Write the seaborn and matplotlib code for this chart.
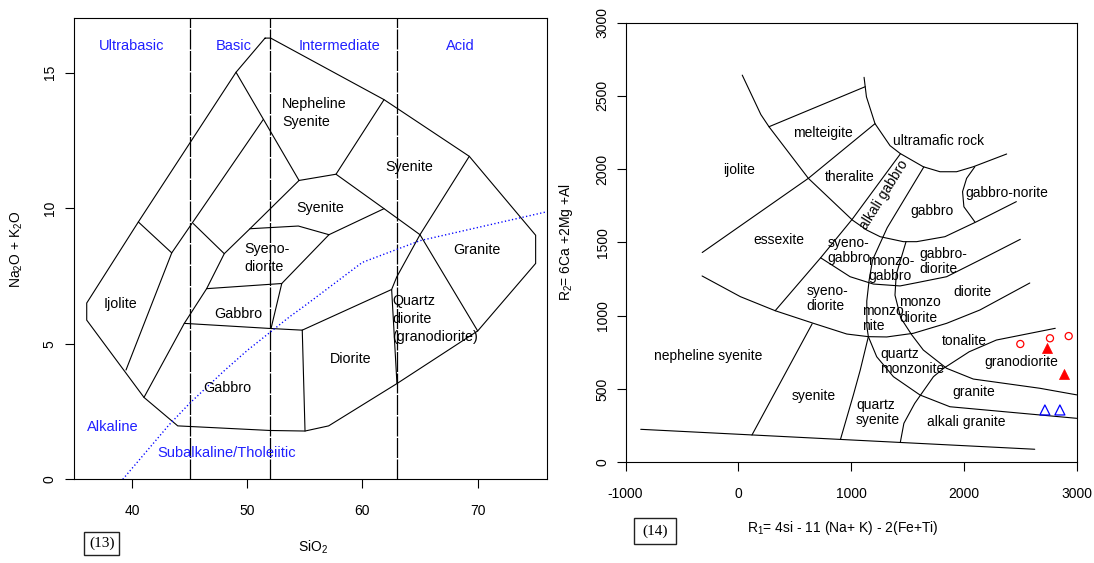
import matplotlib
matplotlib.use("Agg")
import matplotlib.pyplot as plt
import seaborn as sns
from matplotlib.patches import Rectangle

# ======================= LEFT PANEL DATA (TAS, plutonic) =======================
TAS_OUTER_X = [51.55, 52.04, 61.88, 69.28, 75.04, 75.04, 70.01, 63.0, 57.07, 55.02, 52.0, 43.97, 41.04, 36.07, 36.07, 40.55, 49.03, 51.55]
TAS_OUTER_Y = [16.27, 16.27, 14.0, 11.91, 9.0, 7.96, 5.47, 3.53, 1.97, 1.78, 1.8, 1.97, 3.02, 5.87, 6.5, 9.49, 15.01, 16.27]
TAS_IJOLITE_X = [40.55, 43.45, 39.48]
TAS_IJOLITE_Y = [9.49, 8.35, 4.03]
TAS_LINE_A_X = [43.45, 51.40]
TAS_LINE_A_Y = [8.35, 13.27]
TAS_SHORT_X = [45.32, 48.01]
TAS_SHORT_Y = [9.43, 8.32]
TAS_LINE_B_X = [41.04, 44.54, 46.48, 48.01, 50.24, 54.50]
TAS_LINE_B_Y = [3.02, 5.75, 7.03, 8.32, 9.24, 11.02]
TAS_NEPH_LEFT_X = [49.03, 54.50]
TAS_NEPH_LEFT_Y = [15.01, 11.02]
TAS_NEPH_BOTTOM_X = [54.50, 57.71, 61.88]
TAS_NEPH_BOTTOM_Y = [11.02, 11.25, 14.0]
TAS_SYENITE_DIAG_X = [57.71, 61.88, 65.0, 69.28]
TAS_SYENITE_DIAG_Y = [11.25, 9.98, 9.02, 11.91]
TAS_GRANITE_LEFT_X = [65.0, 70.01]
TAS_GRANITE_LEFT_Y = [9.02, 5.47]
TAS_SYENITE_BOT_X = [61.88, 57.10, 54.44, 50.24]
TAS_SYENITE_BOT_Y = [9.98, 9.02, 9.34, 9.24]
TAS_SYENODIO_R_X = [57.10, 53.0, 52.07]
TAS_SYENODIO_R_Y = [9.02, 7.22, 5.56]
TAS_GABBRO_UP_X = [46.48, 53.0]
TAS_GABBRO_UP_Y = [7.03, 7.22]
TAS_GABBRO_LOW_X = [44.54, 52.07, 54.78]
TAS_GABBRO_LOW_Y = [5.75, 5.56, 5.5]
TAS_DIORITE_L_X = [54.78, 55.02]
TAS_DIORITE_L_Y = [5.5, 1.78]
TAS_DIORITE_TOP_X = [54.78, 62.54, 63.0]
TAS_DIORITE_TOP_Y = [5.5, 7.0, 3.53]
TAS_QD_UP_X = [62.54, 62.98, 65.0]
TAS_QD_UP_Y = [7.0, 7.46, 9.02]

SILICA_DIVIDERS = [45, 52, 63]
IB_X = [39.2, 40, 43.2, 45, 48, 50, 53.7, 55, 60, 65, 77.4]
IB_Y = [0, 0.4, 2, 2.8, 4, 4.75, 6, 6.4, 8, 8.8, 10]

TAS_ROCK_NAMES = ["Ijolite", "Gabbro", "Gabbro", "Syenite", "Syenite", "Granite", "Diorite"]
TAS_ROCK_X = [38.98, 48.29, 49.26, 56.36, 64.03, 69.92, 59.0]
TAS_ROCK_Y = [6.46, 3.35, 6.11, 10.0, 11.51, 8.45, 4.42]
TAS_ML_NAMES = ["Syeno-\ndiorite", "Nepheline\nSyenite", "Quartz\ndiorite\n(granodiorite)"]
TAS_ML_X = [49.75, 53.05, 62.6]
TAS_ML_Y = [8.16, 13.52, 5.9]
TAS_BLUE_NAMES = ["Ultrabasic", "Basic", "Intermediate", "Acid", "Alkaline", "Subalkaline/Tholeiitic"]
TAS_BLUE_X = [39.93, 48.85, 58.05, 68.5, 38.35, 48.22]
TAS_BLUE_Y = [15.97, 15.97, 15.97, 15.97, 1.94, 0.96]
TAS_XTICKS = [40, 50, 60, 70]
TAS_YTICKS = [0, 5, 10, 15]

# ======================= RIGHT PANEL DATA (R1-R2) =======================
R_BOTTOM_X = [-865, 2628]
R_BOTTOM_Y = [225, 89]
R_CURVE_X = [35, 200, 272, 621, 1012, 1139, 1257, 1463, 1581, 1832, 2112, 2465]
R_CURVE_Y = [2641, 2372, 2289, 1937, 1652, 1584, 1539, 1505, 1505, 1539, 1641, 1778]
R_MELT_X = [272, 1125]
R_MELT_Y = [2289, 2562]
R_ULTRA_X = [1115, 1136, 1212, 1345, 1434, 1640, 1788, 1935, 2083, 2379]
R_ULTRA_Y = [2626, 2493, 2310, 2160, 2107, 2016, 1982, 1982, 2016, 2103]
R_THER_X = [-320, 621, 1212]
R_THER_Y = [1431, 1937, 2310]
R_ALKGAB_L_X = [1438, 1010, 730, 327]
R_ALKGAB_L_Y = [2105, 1658, 1395, 1034]
R_MONZ_L_X = [1645, 1320, 1190, 1160, 1139, 1140, 1153, 1081, 1020, 906]
R_MONZ_L_Y = [2015, 1600, 1380, 1243, 1100, 925, 857, 629, 459, 157]
R_GABDIO_X = [730, 991, 1197, 1434, 1581, 1847, 2142, 2500]
R_GABDIO_Y = [1395, 1266, 1216, 1203, 1225, 1266, 1380, 1521]
R_LINE7_X = [1487, 1400, 1389, 1440, 1537, 1640, 1847, 2083, 2673, 3000]
R_LINE7_Y = [1505, 1280, 1140, 985, 870, 766, 641, 568, 505, 460]
R_MONZ_BOT_X = [-321, 18, 327, 666, 962, 1153, 1316, 1552, 1847, 2142, 2584]
R_MONZ_BOT_Y = [1271, 1130, 1034, 948, 875, 857, 855, 880, 948, 1039, 1223]
R_SYENITE_L_X = [655, 121]
R_SYENITE_L_Y = [945, 186]
R_QSYEN_R_X = [1436, 1468, 1564, 1730, 1820, 2047, 2288, 2810]
R_QSYEN_R_Y = [135, 266, 402, 584, 641, 754, 834, 914]
R_QMZ_BOT_X = [1153, 1227, 1375, 1611, 1876, 2673, 3000]
R_QMZ_BOT_Y = [857, 720, 584, 459, 379, 323, 300]
R_GABNOR_X = [2097, 2024, 1988, 2000, 2097]
R_GABNOR_Y = [2016, 1937, 1846, 1743, 1640]

R_NAMES = ["ijolite", "melteigite", "theralite", "ultramafic rock", "gabbro", "essexite",
           "diorite", "tonalite", "granodiorite", "granite", "alkali granite", "syenite",
           "nepheline syenite"]
R_NAMES_X = [9, 750, 987, 1776, 1714, 360, 2076, 2001, 2506, 2090, 2019, 671, -263]
R_NAMES_Y = [1993, 2244, 1948, 2191, 1716, 1516, 1159, 827, 686, 481, 277, 452, 725]
R_LEFT_NAMES = ["gabbro-norite", "syeno-\ngabbro", "monzo-\ngabbro", "gabbro-\ndiorite", "syeno-\ndiorite",
                "monzo\nnite", "monzo\ndiorite", "quartz\nmonzonite", "quartz\nsyenite"]
R_LEFT_X = [2010, 794, 1153, 1604, 602, 1100, 1428, 1257, 1044]
R_LEFT_Y = [1839, 1446, 1323, 1368, 1118, 979, 1039, 689, 338]
R_ROT_NAME = "alkali gabbro"
R_ROT_X = [1295]
R_ROT_Y = [1828]

RED_CIRCLE_R1 = [2500, 2763, 2929]
RED_CIRCLE_R2 = [807, 846, 861]
RED_TRI_R1 = [2733, 2888]
RED_TRI_R2 = [783, 599]
BLUE_TRI_R1 = [2718, 2851]
BLUE_TRI_R2 = [357, 357]
R_XTICKS = [-1000, 0, 1000, 2000, 3000]
R_YTICKS = [0, 500, 1000, 1500, 2000, 2500, 3000]

# ======================= STYLE =======================
sns.set_theme(style="ticks")
plt.rcParams["font.family"] = ["Liberation Sans", "DejaVu Sans"]
plt.rcParams["mathtext.fontset"] = "custom"
plt.rcParams["mathtext.rm"] = "Liberation Sans"
plt.rcParams["mathtext.default"] = "regular"
plt.rcParams["axes.unicode_minus"] = False
for k in ["text.color", "axes.labelcolor", "xtick.color", "ytick.color", "axes.edgecolor"]:
    plt.rcParams[k] = "black"

W, H = 1094, 563
fig = plt.figure(figsize=(W / 100, H / 100), dpi=100)
ax1 = fig.add_axes([74.4 / W, 1 - 479.3 / H, 472.3 / W, 461.0 / H])
ax2 = fig.add_axes([625.5 / W, 1 - 462.3 / H, 451.2 / W, 439.8 / H])

LW = 0.8
BLUE = "#2020ff"


def style_axes(ax, xticks, yticks, ypad):
    for s in ax.spines.values():
        s.set_visible(True)
        s.set_linewidth(0.8)
        s.set_color("black")
    ax.set_xticks(xticks)
    ax.set_yticks(yticks)
    ax.tick_params(axis="both", direction="out", length=6.5, width=0.8,
                   color="black", labelsize=10, labelcolor="black")
    ax.tick_params(axis="x", pad=11)
    ax.tick_params(axis="y", pad=ypad, labelrotation=90)
    plt.setp(ax.get_yticklabels(), va="center")
    ax.grid(False)


# ----------------------- left panel -----------------------
tas_lines = [
    (TAS_OUTER_X, TAS_OUTER_Y), (TAS_IJOLITE_X, TAS_IJOLITE_Y), (TAS_LINE_A_X, TAS_LINE_A_Y),
    (TAS_SHORT_X, TAS_SHORT_Y), (TAS_LINE_B_X, TAS_LINE_B_Y), (TAS_NEPH_LEFT_X, TAS_NEPH_LEFT_Y),
    (TAS_NEPH_BOTTOM_X, TAS_NEPH_BOTTOM_Y), (TAS_SYENITE_DIAG_X, TAS_SYENITE_DIAG_Y),
    (TAS_GRANITE_LEFT_X, TAS_GRANITE_LEFT_Y), (TAS_SYENITE_BOT_X, TAS_SYENITE_BOT_Y),
    (TAS_SYENODIO_R_X, TAS_SYENODIO_R_Y), (TAS_GABBRO_UP_X, TAS_GABBRO_UP_Y),
    (TAS_GABBRO_LOW_X, TAS_GABBRO_LOW_Y), (TAS_DIORITE_L_X, TAS_DIORITE_L_Y),
    (TAS_DIORITE_TOP_X, TAS_DIORITE_TOP_Y), (TAS_QD_UP_X, TAS_QD_UP_Y),
]
for xs, ys in tas_lines:
    ax1.plot(xs, ys, color="black", lw=LW, solid_joinstyle="miter")
for xv in SILICA_DIVIDERS:
    ax1.axvline(xv, color="black", lw=0.9, linestyle=(0, (16, 1.2)))
ax1.plot(IB_X, IB_Y, color="blue", lw=1.0, linestyle=(0, (0.9, 1.7)))

for name, x, y in zip(TAS_ROCK_NAMES, TAS_ROCK_X, TAS_ROCK_Y):
    ax1.text(x, y, name, fontsize=10.3, ha="center", va="center")
for name, x, y in zip(TAS_ML_NAMES, TAS_ML_X, TAS_ML_Y):
    ax1.text(x, y, name, fontsize=10.3, ha="left", va="center", multialignment="left", linespacing=1.35)
for name, x, y in zip(TAS_BLUE_NAMES, TAS_BLUE_X, TAS_BLUE_Y):
    ax1.text(x, y, name, fontsize=10.5, ha="center", va="center", color=BLUE)

ax1.set_xlim(35, 76)
ax1.set_ylim(0, 17)
style_axes(ax1, TAS_XTICKS, TAS_YTICKS, ypad=6.2)
ax1.set_xlabel("SiO$_2$", fontsize=10)
ax1.set_ylabel("Na$_2$O + K$_2$O", fontsize=10)
ax1.xaxis.set_label_coords(0.5046, -0.148)
ax1.xaxis.label.set_va("center")
ax1.yaxis.set_label_coords(-0.122, 0.5)
ax1.yaxis.label.set_va("center")

# ----------------------- right panel -----------------------
r_lines = [
    (R_BOTTOM_X, R_BOTTOM_Y), (R_CURVE_X, R_CURVE_Y), (R_MELT_X, R_MELT_Y), (R_ULTRA_X, R_ULTRA_Y),
    (R_THER_X, R_THER_Y), (R_ALKGAB_L_X, R_ALKGAB_L_Y), (R_MONZ_L_X, R_MONZ_L_Y),
    (R_GABDIO_X, R_GABDIO_Y), (R_LINE7_X, R_LINE7_Y), (R_MONZ_BOT_X, R_MONZ_BOT_Y),
    (R_SYENITE_L_X, R_SYENITE_L_Y), (R_QSYEN_R_X, R_QSYEN_R_Y), (R_QMZ_BOT_X, R_QMZ_BOT_Y),
    (R_GABNOR_X, R_GABNOR_Y),
]
for xs, ys in r_lines:
    ax2.plot(xs, ys, color="black", lw=LW)

for name, x, y in zip(R_NAMES, R_NAMES_X, R_NAMES_Y):
    ax2.text(x, y, name, fontsize=10, ha="center", va="center")
for name, x, y in zip(R_LEFT_NAMES, R_LEFT_X, R_LEFT_Y):
    ax2.text(x, y, name, fontsize=10, ha="left", va="center", multialignment="left", linespacing=1.12)
ax2.text(R_ROT_X[0], R_ROT_Y[0], R_ROT_NAME, fontsize=10, ha="center", va="center",
         rotation=58, rotation_mode="anchor")

sns.scatterplot(x=RED_CIRCLE_R1, y=RED_CIRCLE_R2, ax=ax2, marker="o", s=26,
                facecolor="none", edgecolor="red", linewidth=0.9, zorder=5)
sns.scatterplot(x=RED_TRI_R1, y=RED_TRI_R2, ax=ax2, marker="^", s=52,
                color="red", edgecolor="red", linewidth=0.5, zorder=5)
sns.scatterplot(x=BLUE_TRI_R1, y=BLUE_TRI_R2, ax=ax2, marker="^", s=52,
                facecolor="none", edgecolor="blue", linewidth=0.9, zorder=5)

ax2.set_xlim(-1000, 3000)
ax2.set_ylim(0, 3000)
style_axes(ax2, R_XTICKS, R_YTICKS, ypad=5.0)
ax2.set_xlabel("R$_1$= 4si - 11 (Na+ K) - 2(Fe+Ti)", fontsize=10)
ax2.set_ylabel("R$_2$= 6Ca +2Mg +Al", fontsize=10)
ax2.xaxis.set_label_coords(0.4826, -0.15)
ax2.xaxis.label.set_va("center")
ax2.yaxis.set_label_coords(-0.132, 0.5)
ax2.yaxis.label.set_va("center")

# ----------------------- figure number boxes -----------------------
for (x0, y0, x1, y1), lab in [((84, 531.7, 119.3, 555), "(13)"), ((634, 518.3, 676, 544), "(14)")]:
    fig.patches.append(Rectangle((x0 / W, 1 - y1 / H), (x1 - x0) / W, (y1 - y0) / H,
                                 transform=fig.transFigure, fill=False, lw=1.0, ec="#222222"))
    fig.text((x0 + x1) / 2 / W, 1 - (y0 + y1) / 2 / H, lab, fontsize=11,
             family=["Liberation Serif", "DejaVu Serif"], ha="center", va="center")

fig.savefig("out.png", dpi=100, facecolor="white")
